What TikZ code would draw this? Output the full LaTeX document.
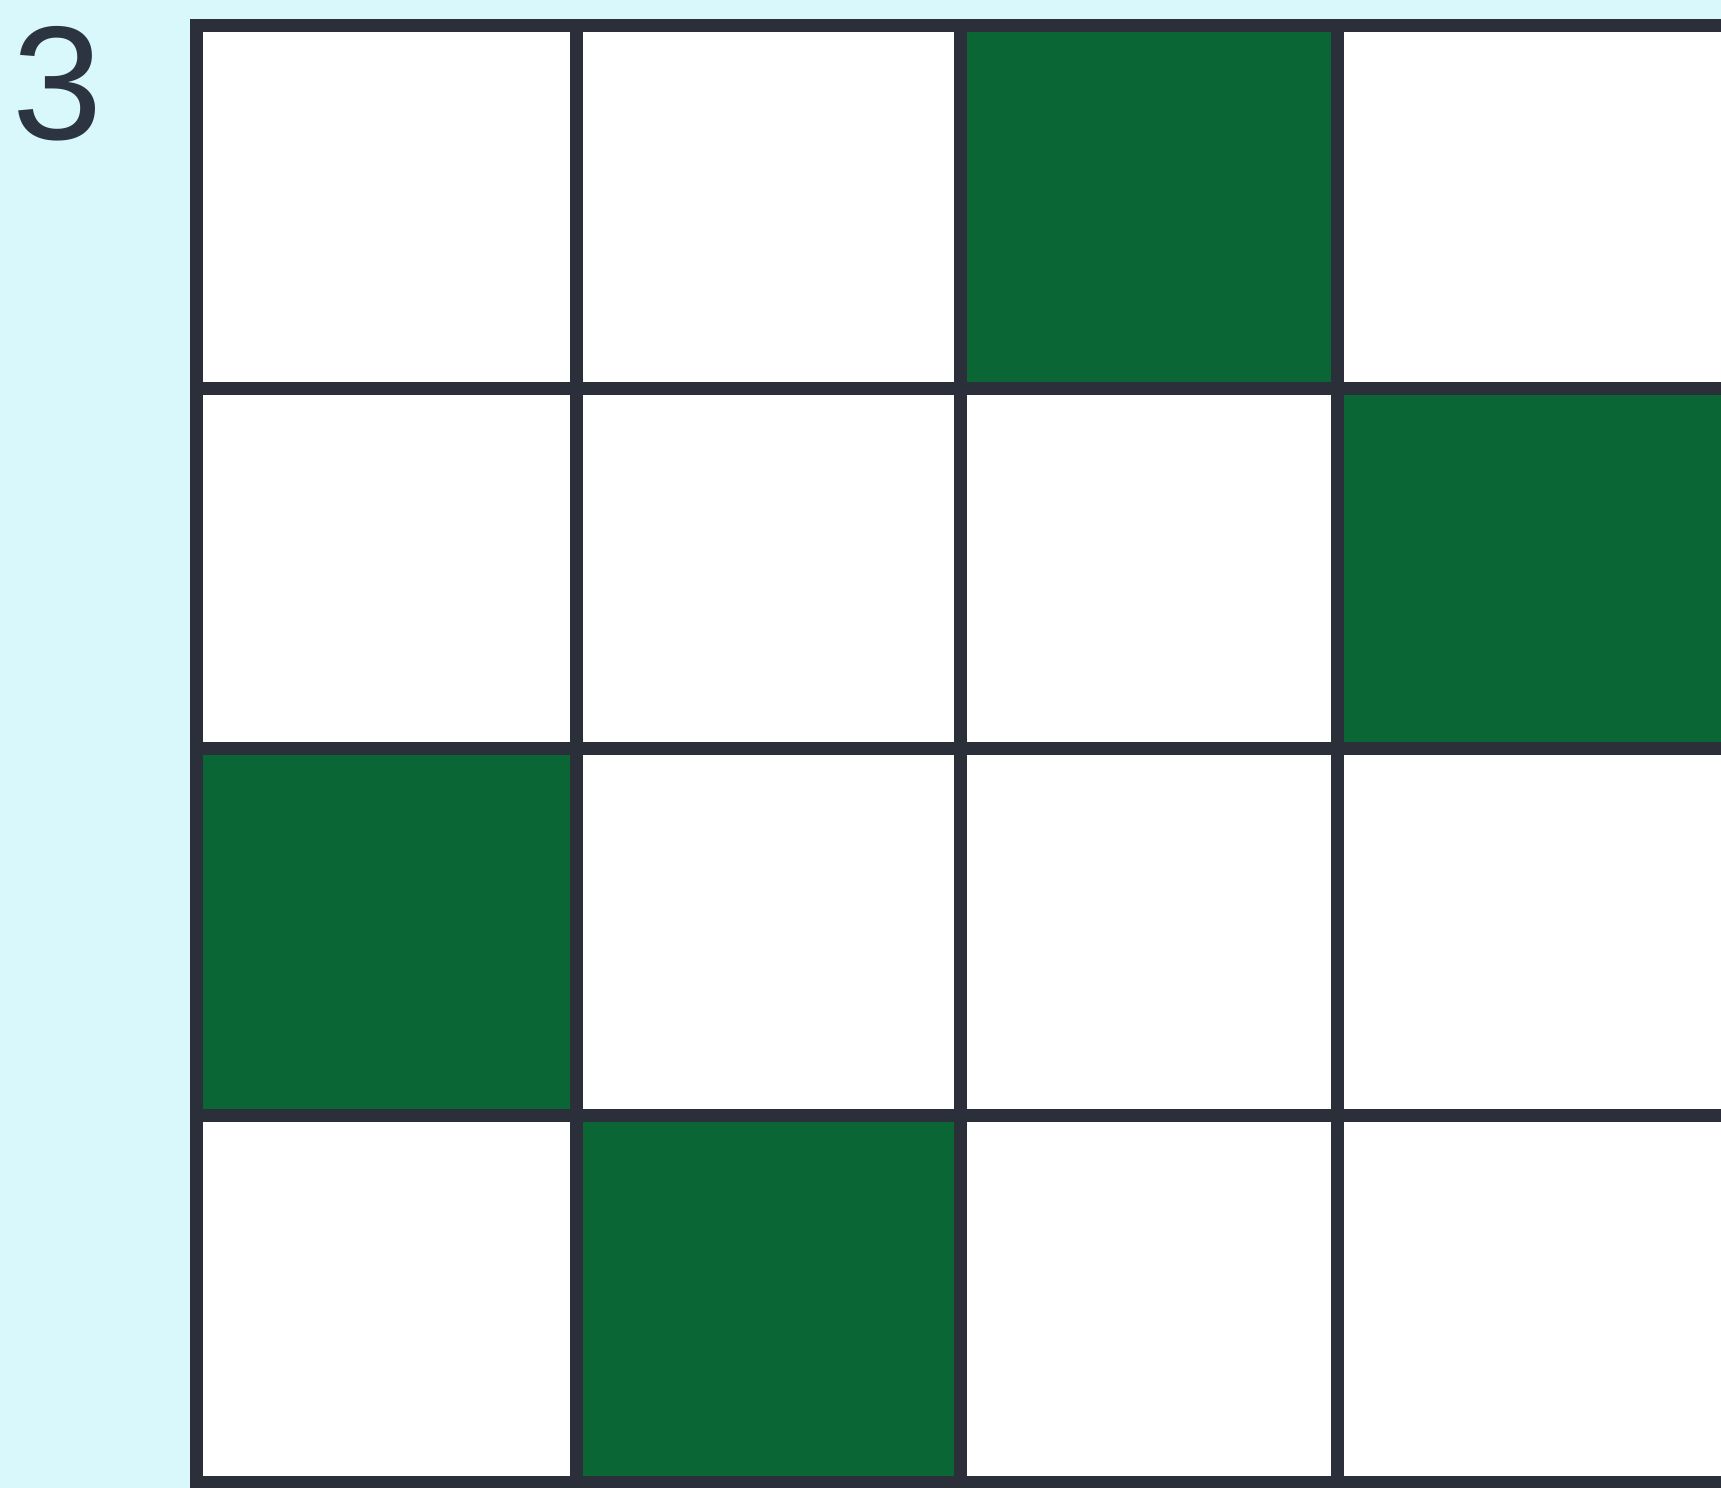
\documentclass[tikz,border=0pt]{standalone}
\usepackage{fontspec}
\setmainfont{Liberation Sans}
\definecolor{bgc}{HTML}{D8F8FC}
\definecolor{cellgreen}{HTML}{0A6634}
\definecolor{gridline}{HTML}{2A2F3A}
\definecolor{numcol}{HTML}{2B3440}
\tikzset{
  gridstroke/.style={draw=gridline, line width=13pt, line cap=rect},
  greencell/.style={fill=cellgreen},
  whitecell/.style={fill=white},
  numlabel/.style={font=\fontsize{162}{162}\selectfont, text=numcol, inner sep=0pt, anchor=base west}
}
\begin{document}
\begin{tikzpicture}[x=1pt,y=-1pt]
\useasboundingbox (0,0) rectangle (1721,1488);
\clip (0,0) rectangle (1721,1488);
\fill[bgc] (0,0) rectangle (1721,1488);
% cells
\fill[whitecell] (196,26) rectangle (1760,1482);
\fill[greencell] (960,26) rectangle (1337,388);
\fill[greencell] (1337,388) rectangle (1760,748);
\fill[greencell] (196,748) rectangle (576,1115);
\fill[greencell] (576,1115) rectangle (960,1482);
% grid lines
\foreach \gx in {196,576,960,1337}
  \draw[gridstroke] (\gx,26) -- (\gx,1482);
\foreach \gy in {26,388,748,1115,1482}
  \draw[gridstroke] (196,\gy) -- (1760,\gy);
\node[numlabel] (num) at (12,139) {3};
\end{tikzpicture}
\end{document}
